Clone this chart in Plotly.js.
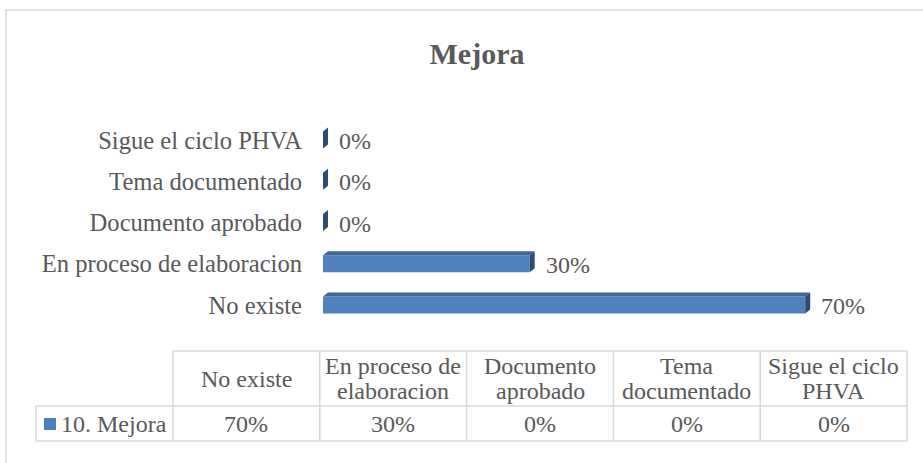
<!DOCTYPE html>
<html>
<head>
<meta charset="utf-8">
<script src="https://cdn.plot.ly/plotly-3.0.1.min.js"></script>
<style>html,body{margin:0;padding:0;background:#fff;}#chart{width:923px;height:463px;}</style>
</head>
<body>
<div id="chart"></div>
<script>
// ---- data ----
var categories = ["No existe", "En proceso de elaboracion", "Documento aprobado", "Tema documentado", "Sigue el ciclo PHVA"];
var tableHeaders = ["No existe", "En proceso de<br>elaboracion", "Documento<br>aprobado", "Tema<br>documentado", "Sigue el ciclo<br>PHVA"];
var values = [70, 30, 0, 0, 0];
var seriesName = "10. Mejora";
var chartTitle = "Mejora";

// ---- styling / geometry ----
var W = 923, H = 463;
var FONT = "Liberation Serif";
var FS_AXIS = 24.6;
var FS = 24;
var TXT = "#595959";
var GRID = "#d9d9d9";
var FRONT = "#4F81BD", TOP = "#3E6699", SIDE = "#2C4C77";
var xRange = [0, 87.1];
var plotLeft = 323, plotRight = 923;
var yTop = 119.4, yBot = 325.6;
var barW = 0.41;
var pxPerX = (plotRight - plotLeft) / (xRange[1] - xRange[0]);
var pxPerY = (yBot - yTop) / 5;
var dX = 5 / pxPerX, dY = 4 / pxPerY;

function px(x) { return x / W; }
function py(y) { return 1 - y / H; }

var idx = categories.map(function (_, i) { return i; });
var labels = values.map(function (v) { return v + "%"; });

var shapes = [];
var annotations = [];

// 3D faces of bars, derived from the data
values.forEach(function (v, i) {
  var t = i + barW / 2, b = i - barW / 2;
  shapes.push({type: "path", xref: "x", yref: "y", layer: "above",
    path: "M0," + t + " L" + dX + "," + (t + dY) + " L" + (v + dX) + "," + (t + dY) + " L" + v + "," + t + " Z",
    fillcolor: TOP, line: {width: 0}});
  shapes.push({type: "path", xref: "x", yref: "y", layer: "above",
    path: "M" + v + "," + t + " L" + (v + dX) + "," + (t + dY) + " L" + (v + dX) + "," + (b + dY) + " L" + v + "," + b + " Z",
    fillcolor: SIDE, line: {width: 0}});
  annotations.push({x: v, y: i, xref: "x", yref: "y", text: labels[i], showarrow: false,
    xanchor: "left", yanchor: "middle", xshift: 14, yshift: -1,
    font: {family: FONT, size: FS, color: TXT}});
});

// outer frame
shapes.push({type: "rect", xref: "paper", yref: "paper", x0: px(6), x1: px(940), y0: py(10), y1: py(480),
  line: {color: GRID, width: 1.5}, fillcolor: "rgba(0,0,0,0)"});

// data table
var tLeft = 173, tRight = 907, legLeft = 36;
var rTop = 351, rMid = 406, rBot = 441;
var colW = (tRight - tLeft) / categories.length;
function hline(y, x0, x1) {
  shapes.push({type: "line", xref: "paper", yref: "paper", x0: px(x0), x1: px(x1), y0: py(y), y1: py(y), line: {color: GRID, width: 1.5}});
}
function vline(x, y0, y1) {
  shapes.push({type: "line", xref: "paper", yref: "paper", x0: px(x), x1: px(x), y0: py(y0), y1: py(y1), line: {color: GRID, width: 1.5}});
}
hline(rTop, tLeft, tRight);
hline(rMid, legLeft, tRight);
hline(rBot, legLeft, tRight);
vline(legLeft, rMid, rBot);
for (var c = 0; c <= categories.length; c++) vline(tLeft + c * colW, rTop, rBot);

tableHeaders.forEach(function (h, i) {
  var cx = tLeft + (i + 0.5) * colW;
  var lines = h.split("<br>");
  var lh = 25;
  var cy = (rTop + rMid) / 2;
  lines.forEach(function (ln, k) {
    var yy = cy + (k - (lines.length - 1) / 2) * lh;
    annotations.push({x: px(cx), y: py(yy), xref: "paper", yref: "paper", text: ln, showarrow: false,
      xanchor: "center", yanchor: "middle", font: {family: FONT, size: FS, color: TXT}});
  });
  annotations.push({x: px(cx), y: py((rMid + rBot) / 2), xref: "paper", yref: "paper", text: labels[i], showarrow: false,
    xanchor: "center", yanchor: "middle", font: {family: FONT, size: FS, color: TXT}});
});
// legend key in table
shapes.push({type: "rect", xref: "paper", yref: "paper", x0: px(44), x1: px(56), y0: py(418), y1: py(430),
  fillcolor: FRONT, line: {width: 0}});
annotations.push({x: px(59), y: py((rMid + rBot) / 2), xref: "paper", yref: "paper", text: seriesName, showarrow: false,
  xanchor: "left", yanchor: "middle", font: {family: FONT, size: FS, color: TXT}});

var trace = {
  type: "bar", orientation: "h", x: values, y: idx, width: barW,
  marker: {color: FRONT, line: {width: 0}}, hoverinfo: "skip", name: seriesName
};

var layout = {
  width: W, height: H,
  margin: {l: 0, r: 0, t: 0, b: 0},
  paper_bgcolor: "#fff", plot_bgcolor: "rgba(0,0,0,0)",
  showlegend: false,
  title: {text: "<b>" + chartTitle + "</b>", x: px(477), xanchor: "center", xref: "paper",
    y: py(53), yanchor: "middle", yref: "paper", font: {family: FONT, size: 30, color: TXT}},
  xaxis: {domain: [px(plotLeft), px(plotRight)], range: xRange, visible: false, fixedrange: true},
  yaxis: {domain: [py(yBot), py(yTop)], range: [-0.5, 4.5], tickvals: idx, ticktext: categories,
    showgrid: false, zeroline: false, showline: false, ticks: "", ticklabelstandoff: 20,
    tickfont: {family: FONT, size: FS_AXIS, color: TXT}, automargin: false, fixedrange: true},
  shapes: shapes,
  annotations: annotations
};

Plotly.newPlot("chart", [trace], layout, {displayModeBar: false, staticPlot: true});
</script>
</body>
</html>
